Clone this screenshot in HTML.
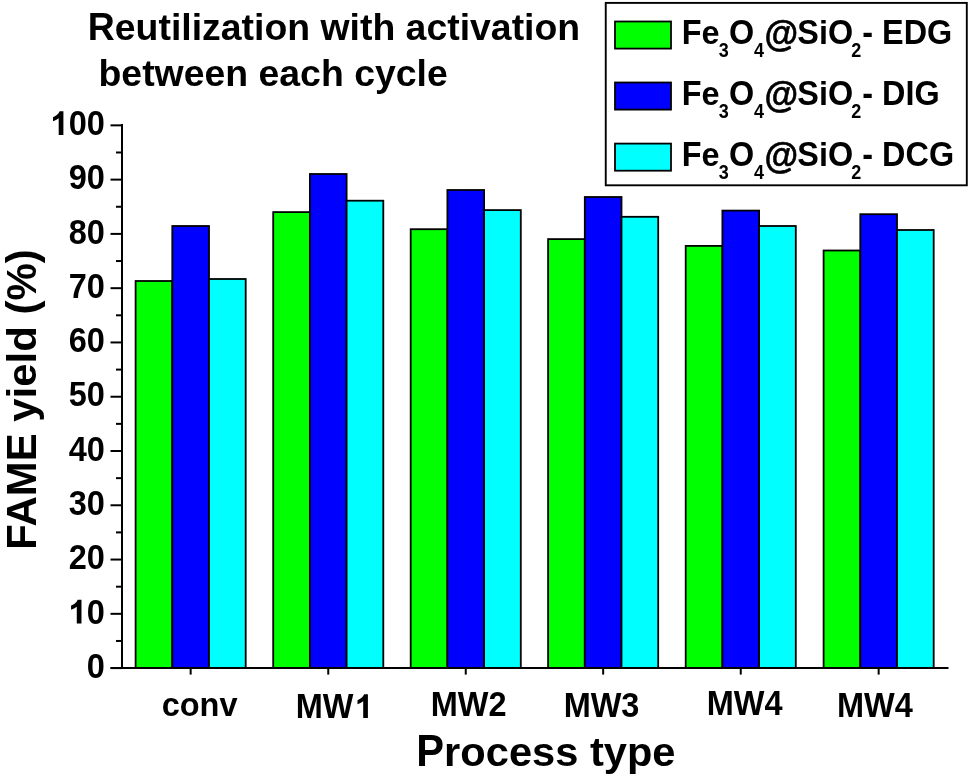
<!DOCTYPE html>
<html><head><meta charset="utf-8"><style>
html,body{margin:0;padding:0;background:#fff;}
svg{display:block;will-change:transform;}
text{font-family:"Liberation Sans", sans-serif;font-weight:bold;fill:#000;}
</style></head><body>
<svg width="969" height="782" viewBox="0 0 969 782">
<rect x="0" y="0" width="969" height="782" fill="#fff"/>
<rect x="135.60" y="281.00" width="36.70" height="387.10" fill="#00ff00" stroke="#000" stroke-width="1.8"/>
<rect x="172.30" y="226.00" width="36.70" height="442.10" fill="#0000ff" stroke="#000" stroke-width="1.8"/>
<rect x="209.00" y="279.00" width="36.70" height="389.10" fill="#00ffff" stroke="#000" stroke-width="1.8"/>
<rect x="273.20" y="212.10" width="36.70" height="456.00" fill="#00ff00" stroke="#000" stroke-width="1.8"/>
<rect x="309.90" y="174.00" width="36.70" height="494.10" fill="#0000ff" stroke="#000" stroke-width="1.8"/>
<rect x="346.60" y="200.70" width="36.70" height="467.40" fill="#00ffff" stroke="#000" stroke-width="1.8"/>
<rect x="410.70" y="229.20" width="36.70" height="438.90" fill="#00ff00" stroke="#000" stroke-width="1.8"/>
<rect x="447.40" y="190.00" width="36.70" height="478.10" fill="#0000ff" stroke="#000" stroke-width="1.8"/>
<rect x="484.10" y="210.10" width="36.70" height="458.00" fill="#00ffff" stroke="#000" stroke-width="1.8"/>
<rect x="548.10" y="239.10" width="36.70" height="429.00" fill="#00ff00" stroke="#000" stroke-width="1.8"/>
<rect x="584.80" y="197.00" width="36.70" height="471.10" fill="#0000ff" stroke="#000" stroke-width="1.8"/>
<rect x="621.50" y="216.80" width="36.70" height="451.30" fill="#00ffff" stroke="#000" stroke-width="1.8"/>
<rect x="685.70" y="245.90" width="36.70" height="422.20" fill="#00ff00" stroke="#000" stroke-width="1.8"/>
<rect x="722.40" y="210.60" width="36.70" height="457.50" fill="#0000ff" stroke="#000" stroke-width="1.8"/>
<rect x="759.10" y="226.00" width="36.70" height="442.10" fill="#00ffff" stroke="#000" stroke-width="1.8"/>
<rect x="823.60" y="250.50" width="36.70" height="417.60" fill="#00ff00" stroke="#000" stroke-width="1.8"/>
<rect x="860.30" y="214.20" width="36.70" height="453.90" fill="#0000ff" stroke="#000" stroke-width="1.8"/>
<rect x="897.00" y="230.00" width="36.70" height="438.10" fill="#00ffff" stroke="#000" stroke-width="1.8"/>
<line x1="122.0" y1="124" x2="122.0" y2="669" stroke="#000" stroke-width="2"/>
<line x1="110.5" y1="668.1" x2="948.5" y2="668.1" stroke="#000" stroke-width="2"/>
<line x1="110.5" y1="668.10" x2="122.0" y2="668.10" stroke="#000" stroke-width="2"/>
<line x1="116" y1="640.96" x2="122.0" y2="640.96" stroke="#000" stroke-width="2"/>
<line x1="110.5" y1="613.83" x2="122.0" y2="613.83" stroke="#000" stroke-width="2"/>
<line x1="116" y1="586.69" x2="122.0" y2="586.69" stroke="#000" stroke-width="2"/>
<line x1="110.5" y1="559.55" x2="122.0" y2="559.55" stroke="#000" stroke-width="2"/>
<line x1="116" y1="532.41" x2="122.0" y2="532.41" stroke="#000" stroke-width="2"/>
<line x1="110.5" y1="505.27" x2="122.0" y2="505.27" stroke="#000" stroke-width="2"/>
<line x1="116" y1="478.14" x2="122.0" y2="478.14" stroke="#000" stroke-width="2"/>
<line x1="110.5" y1="451.00" x2="122.0" y2="451.00" stroke="#000" stroke-width="2"/>
<line x1="116" y1="423.86" x2="122.0" y2="423.86" stroke="#000" stroke-width="2"/>
<line x1="110.5" y1="396.73" x2="122.0" y2="396.73" stroke="#000" stroke-width="2"/>
<line x1="116" y1="369.59" x2="122.0" y2="369.59" stroke="#000" stroke-width="2"/>
<line x1="110.5" y1="342.45" x2="122.0" y2="342.45" stroke="#000" stroke-width="2"/>
<line x1="116" y1="315.31" x2="122.0" y2="315.31" stroke="#000" stroke-width="2"/>
<line x1="110.5" y1="288.18" x2="122.0" y2="288.18" stroke="#000" stroke-width="2"/>
<line x1="116" y1="261.04" x2="122.0" y2="261.04" stroke="#000" stroke-width="2"/>
<line x1="110.5" y1="233.90" x2="122.0" y2="233.90" stroke="#000" stroke-width="2"/>
<line x1="116" y1="206.76" x2="122.0" y2="206.76" stroke="#000" stroke-width="2"/>
<line x1="110.5" y1="179.62" x2="122.0" y2="179.62" stroke="#000" stroke-width="2"/>
<line x1="116" y1="152.49" x2="122.0" y2="152.49" stroke="#000" stroke-width="2"/>
<line x1="110.5" y1="125.35" x2="122.0" y2="125.35" stroke="#000" stroke-width="2"/>
<line x1="190.65" y1="668.1" x2="190.65" y2="674.6" stroke="#000" stroke-width="2"/>
<line x1="328.25" y1="668.1" x2="328.25" y2="674.6" stroke="#000" stroke-width="2"/>
<line x1="465.75" y1="668.1" x2="465.75" y2="674.6" stroke="#000" stroke-width="2"/>
<line x1="603.15" y1="668.1" x2="603.15" y2="674.6" stroke="#000" stroke-width="2"/>
<line x1="740.75" y1="668.1" x2="740.75" y2="674.6" stroke="#000" stroke-width="2"/>
<line x1="878.65" y1="668.1" x2="878.65" y2="674.6" stroke="#000" stroke-width="2"/>
<text transform="translate(104.83,677.81) scale(1,1.065)" font-size="32.5" text-anchor="end">0</text>
<path transform="translate(68.68,623.53) scale(0.01587,-0.01690)" d="M806,0H510V1000Q350,870 151,820V1060Q260,1095 390,1190Q520,1290 570,1409H806Z"/>
<text transform="translate(104.83,623.53) scale(1,1.065)" font-size="32.5" text-anchor="end">0</text>
<text transform="translate(104.83,569.26) scale(1,1.065)" font-size="32.5" text-anchor="end">20</text>
<text transform="translate(104.83,514.98) scale(1,1.065)" font-size="32.5" text-anchor="end">30</text>
<text transform="translate(104.83,460.71) scale(1,1.065)" font-size="32.5" text-anchor="end">40</text>
<text transform="translate(104.83,406.43) scale(1,1.065)" font-size="32.5" text-anchor="end">50</text>
<text transform="translate(104.83,352.16) scale(1,1.065)" font-size="32.5" text-anchor="end">60</text>
<text transform="translate(104.83,297.88) scale(1,1.065)" font-size="32.5" text-anchor="end">70</text>
<text transform="translate(104.83,243.61) scale(1,1.065)" font-size="32.5" text-anchor="end">80</text>
<text transform="translate(104.83,189.33) scale(1,1.065)" font-size="32.5" text-anchor="end">90</text>
<path transform="translate(50.61,135.06) scale(0.01587,-0.01690)" d="M806,0H510V1000Q350,870 151,820V1060Q260,1095 390,1190Q520,1290 570,1409H806Z"/>
<text transform="translate(104.83,135.06) scale(1,1.065)" font-size="32.5" text-anchor="end">00</text>
<text transform="translate(161.63,716.10) scale(1,1.0)" font-size="32.5">conv</text>
<text transform="translate(295.73,717.90) scale(1,1.056)" font-size="32.5">MW</text>
<path transform="translate(355.11,717.90) scale(0.01587,-0.01676)" d="M806,0H510V1000Q350,870 151,820V1060Q260,1095 390,1190Q520,1290 570,1409H806Z"/>
<text transform="translate(430.73,715.90) scale(1,1.056)" font-size="32.5">MW2</text>
<text transform="translate(563.63,716.80) scale(1,1.056)" font-size="32.5">MW3</text>
<text transform="translate(706.73,714.90) scale(1,1.056)" font-size="32.5">MW4</text>
<text transform="translate(836.93,716.80) scale(1,1.056)" font-size="32.5">MW4</text>
<text transform="translate(416.31,765.80) scale(1,1.052)" font-size="41.65">P</text>
<text transform="translate(444.09,765.80) scale(1,0.98)" font-size="41.65">rocess type</text>
<text transform="translate(35.90,549.70) rotate(-90) scale(1,1.037)" font-size="41.9">FAME</text>
<text transform="translate(35.90,421.67) rotate(-90) scale(1,0.98)" font-size="41.9">yield</text>
<text transform="translate(35.90,314.55) rotate(-90) scale(1,1.0)" font-size="41.9">(%)</text>
<text transform="translate(87.80,40.00) scale(1,1.05)" font-size="37.4">R</text>
<text transform="translate(114.81,40.00) scale(1,1.0)" font-size="37.4">eutilization with activation</text>
<text transform="translate(98.53,85.90) scale(1,1.0)" font-size="37.4">between each cycle</text>
<rect x="605.75" y="2.9" width="361.05" height="182.4" fill="#fff" stroke="#000" stroke-width="1.9"/>
<rect x="615.0" y="21.50" width="56.0" height="27.1" fill="#00ff00" stroke="#000" stroke-width="1.8"/>
<text transform="translate(681.73,43.90) scale(1,1.065)" font-size="32.4">F</text>
<text transform="translate(701.52,43.90) scale(1,1.02)" font-size="32.4">e</text>
<text transform="translate(718.79,56.85) scale(1,1.08)" font-size="18">3</text>
<text transform="translate(728.97,43.90) scale(1,1.065)" font-size="32.4">O</text>
<text transform="translate(754.03,56.85) scale(1,1.08)" font-size="18">4</text>
<text transform="translate(764.43,45.50) scale(1,1.051)" font-size="34.506" stroke="#000" stroke-width="0.6">@</text>
<text transform="translate(797.27,43.90) scale(1,1.065)" font-size="32.4">S</text>
<text transform="translate(818.88,43.90) scale(1,1.0)" font-size="32.4">i</text>
<text transform="translate(827.88,43.90) scale(1,1.065)" font-size="32.4">O</text>
<text transform="translate(851.28,56.85) scale(1,1.08)" font-size="18">2</text>
<text transform="translate(862.33,43.90) scale(1,1.065)" font-size="32.4">- EDG</text>
<rect x="615.0" y="82.50" width="56.0" height="27.1" fill="#0000ff" stroke="#000" stroke-width="1.8"/>
<text transform="translate(681.73,105.10) scale(1,1.065)" font-size="32.4">F</text>
<text transform="translate(701.52,105.10) scale(1,1.02)" font-size="32.4">e</text>
<text transform="translate(718.79,118.05) scale(1,1.08)" font-size="18">3</text>
<text transform="translate(728.97,105.10) scale(1,1.065)" font-size="32.4">O</text>
<text transform="translate(754.03,118.05) scale(1,1.08)" font-size="18">4</text>
<text transform="translate(764.43,106.70) scale(1,1.051)" font-size="34.506" stroke="#000" stroke-width="0.6">@</text>
<text transform="translate(797.27,105.10) scale(1,1.065)" font-size="32.4">S</text>
<text transform="translate(818.88,105.10) scale(1,1.0)" font-size="32.4">i</text>
<text transform="translate(827.88,105.10) scale(1,1.065)" font-size="32.4">O</text>
<text transform="translate(851.28,118.05) scale(1,1.08)" font-size="18">2</text>
<text transform="translate(862.33,105.10) scale(1,1.065)" font-size="32.4">- DIG</text>
<rect x="615.0" y="143.60" width="56.0" height="27.1" fill="#00ffff" stroke="#000" stroke-width="1.8"/>
<text transform="translate(681.73,166.10) scale(1,1.065)" font-size="32.4">F</text>
<text transform="translate(701.52,166.10) scale(1,1.02)" font-size="32.4">e</text>
<text transform="translate(718.79,179.05) scale(1,1.08)" font-size="18">3</text>
<text transform="translate(728.97,166.10) scale(1,1.065)" font-size="32.4">O</text>
<text transform="translate(754.03,179.05) scale(1,1.08)" font-size="18">4</text>
<text transform="translate(764.43,167.70) scale(1,1.051)" font-size="34.506" stroke="#000" stroke-width="0.6">@</text>
<text transform="translate(797.27,166.10) scale(1,1.065)" font-size="32.4">S</text>
<text transform="translate(818.88,166.10) scale(1,1.0)" font-size="32.4">i</text>
<text transform="translate(827.88,166.10) scale(1,1.065)" font-size="32.4">O</text>
<text transform="translate(851.28,179.05) scale(1,1.08)" font-size="18">2</text>
<text transform="translate(862.33,166.10) scale(1,1.065)" font-size="32.4">- DCG</text>
</svg>
</body></html>
